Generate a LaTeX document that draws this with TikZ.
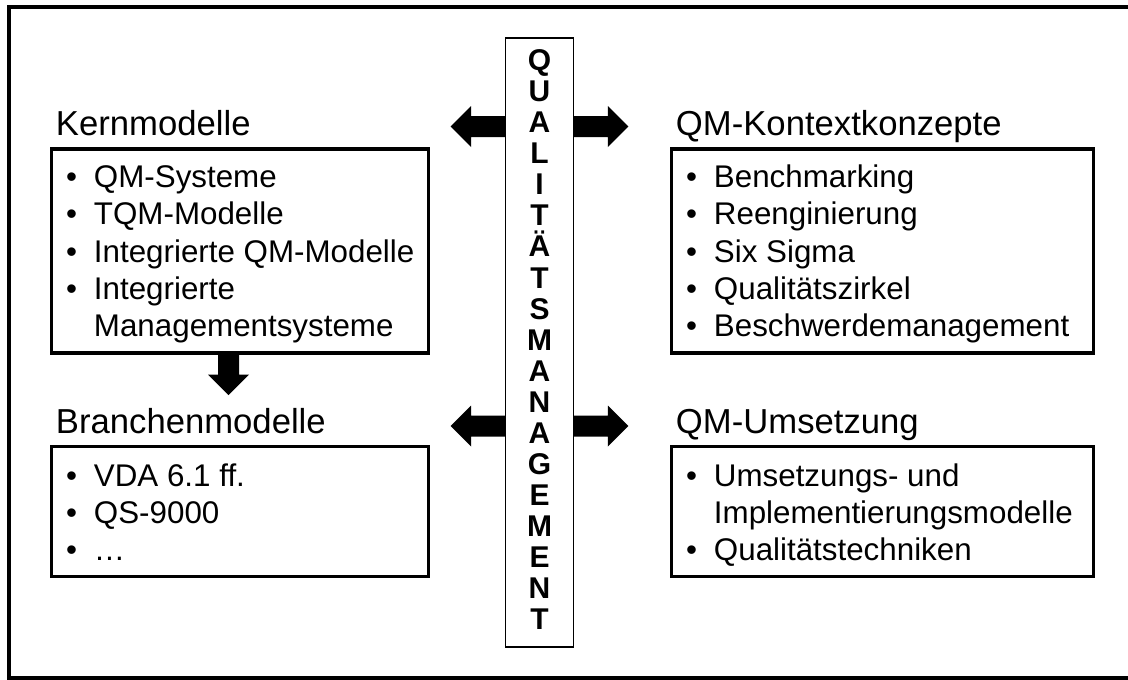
\documentclass[tikz,border=0pt]{standalone}
\usepackage{fontspec}
\setmainfont{Liberation Sans}
\tikzset{
  % block arrow pointing along +x; #1 = shaft length
  pics/fatarrow/.style={code={
    \fill (0,-10.5) -- (#1,-10.5) -- (#1,-20.5) -- (#1+20.5,0) -- (#1,20.5) -- (#1,10.5) -- (0,10.5) -- cycle;
  }},
  frame/.style={line width=3pt},
  panel/.style={draw, line width=2.5pt, fill=white, inner sep=0pt},
  spine/.style={draw, line width=0.9pt, fill=white, inner sep=0pt,
    minimum width=50.7pt, minimum height=456.75pt},
  heading/.style={anchor=base west, inner sep=0pt, font=\fontsize{26}{30}\selectfont},
  entry/.style={anchor=base west, inner sep=0pt, font=\fontsize{23.5}{28}\selectfont},
  dot/.style={anchor=base, inner sep=0pt, font=\fontsize{23.5}{28}\selectfont},
  letter/.style={anchor=base, inner sep=0pt, font=\fontsize{22.5}{24}\selectfont\bfseries},
}
\begin{document}
\begin{tikzpicture}[x=0.75pt,y=-0.75pt]
\useasboundingbox (0,0) rectangle (1128,679);
\draw[frame] (9.2,6.5) rectangle (1132,678);

% central spine
\node[spine] (qm) at (539.5,342.5) {};
\foreach \c [count=\i from 0] in {Q,U,A,L,I,T,Ä,T,S,M,A,N,A,G,E,M,E,N,T}
  \node[letter] (L\i) at (539.5,70.5+31.08*\i) {\c};

% four panels
\node[panel, minimum width=282.75pt, minimum height=153pt] (kern) at (240.2,251) {};
\node[panel, minimum width=316.1pt, minimum height=153pt] (kontext) at (882.45,251) {};
\node[panel, minimum width=282.75pt, minimum height=97.5pt] (branche) at (240.2,511.5) {};
\node[panel, minimum width=316.1pt, minimum height=97.5pt] (umsetz) at (882.45,511.5) {};

% block arrows
\pic[rotate=180] at (qm.west |- 0,126.5) {fatarrow=34};
\pic at (qm.east |- 0,126.5) {fatarrow=34};
\pic[rotate=180] at (qm.west |- 0,426) {fatarrow=34};
\pic at (qm.east |- 0,426) {fatarrow=34};
\pic[rotate=-90] at (228.5,0 |- kern.south) {fatarrow=20};

% headings
\node[heading] (hkern) at (55.7,135) {Kernmodelle};
\node[heading] (hkontext) at (675.7,135) {QM-Kontextkonzepte};
\node[heading] (hbranche) at (55.7,433.3) {Branchenmodelle};
\node[heading] (humsetz) at (675.7,433.3) {QM-Umsetzung};

% Kernmodelle
\node[dot] (kd1) at (71.7,187.5) {•};
\node[entry] (k1) at (93.7,187.5) {QM-Systeme};
\node[dot] (kd2) at (71.7,224.8) {•};
\node[entry] (k2) at (93.7,224.8) {TQM-Modelle};
\node[dot] (kd3) at (71.7,262.1) {•};
\node[entry] (k3) at (93.7,262.1) {Integrierte QM-Modelle};
\node[dot] (kd4) at (71.7,299.4) {•};
\node[entry] (k4) at (93.7,299.4) {Integrierte};
\node[entry] (k5) at (93.7,336.7) {Managementsysteme};

% QM-Kontextkonzepte
\node[dot] (cd1) at (691.7,187.5) {•};
\node[entry] (c1) at (713.7,187.5) {Benchmarking};
\node[dot] (cd2) at (691.7,224.8) {•};
\node[entry] (c2) at (713.7,224.8) {Reenginierung};
\node[dot] (cd3) at (691.7,262.1) {•};
\node[entry] (c3) at (713.7,262.1) {Six Sigma};
\node[dot] (cd4) at (691.7,299.4) {•};
\node[entry] (c4) at (713.7,299.4) {Qualitätszirkel};
\node[dot] (cd5) at (691.7,336.7) {•};
\node[entry] (c5) at (713.7,336.7) {Beschwerdemanagement};

% Branchenmodelle
\node[dot] (bd1) at (71.7,486) {•};
\node[entry] (b1) at (93.7,486) {VDA 6.1 ff.};
\node[dot] (bd2) at (71.7,523) {•};
\node[entry] (b2) at (93.7,523) {QS-9000};
\node[dot] (bd3) at (71.7,560) {•};
\node[entry] (b3) at (93.7,560) {…};

% QM-Umsetzung
\node[dot] (ud1) at (691.7,486) {•};
\node[entry] (u1) at (713.7,486) {Umsetzungs- und};
\node[entry] (u2) at (713.7,523) {Implementierungsmodelle};
\node[dot] (ud3) at (691.7,560) {•};
\node[entry] (u3) at (713.7,560) {Qualitätstechniken};
\end{tikzpicture}
\end{document}
